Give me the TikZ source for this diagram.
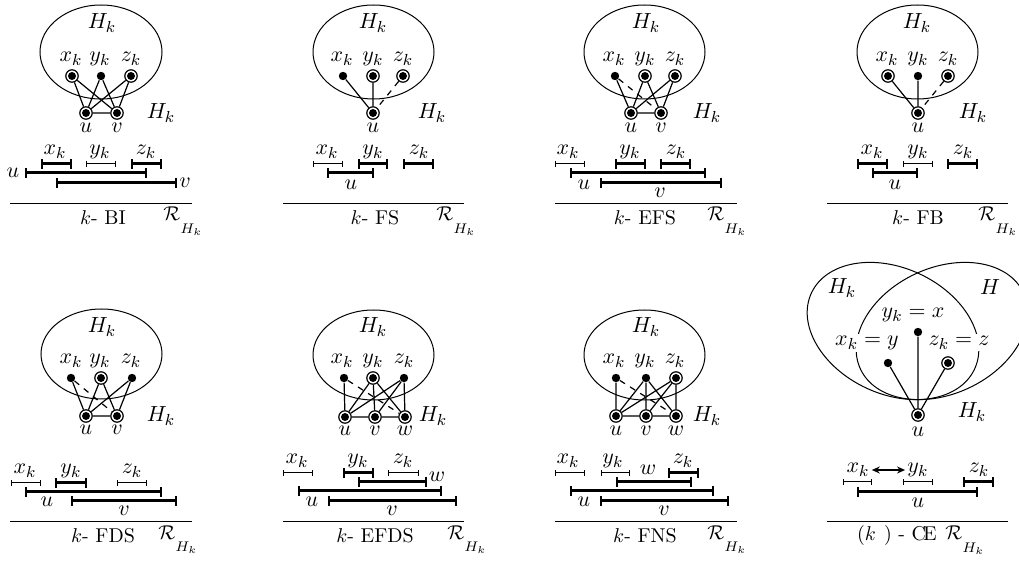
\documentclass[tikz,border=0pt]{standalone}
\usetikzlibrary{arrows.meta}
\newcommand{\RHk}{$\mathcal{R}_{\raisebox{-1.1ex}{$\scriptstyle H_k$}}$}
\begin{document}
\begin{tikzpicture}[x=0.5pt,y=-0.5pt,
  dv/.style={circle,draw,line width=0.6pt,fill=white,minimum size=6.2pt,inner sep=0pt,
    path picture={\fill[black] (path picture bounding box.center) circle (2pt);}},
  fv/.style={circle,fill,minimum size=4.2pt,inner sep=0pt},
  lbl/.style={inner sep=0pt,font=\fontsize{11}{13}\selectfont},
  wl/.style={lbl,fill=white,inner sep=1pt},
  edge/.style={line width=0.6pt},
  dedge/.style={line width=0.6pt,dash pattern=on 3pt off 3pt},
  thickiv/.style={line width=1.5pt,{Bar[width=5pt,line width=1pt]}-{Bar[width=5pt,line width=1pt]}},
  thiniv/.style={line width=0.5pt,{Bar[width=3pt]}-{Bar[width=3pt]}},
  hull/.style={line width=0.5pt},
  rulel/.style={line width=0.5pt},
  captxt/.style={anchor=base,inner sep=0pt},
  rh/.style={anchor=base west,inner sep=0pt},
]
\useasboundingbox (0,0) rectangle (1019,561);

% ---------------- Panel A : k-BI
\draw[hull] (101,52) ellipse [x radius=30.5pt, y radius=23.5pt];
\node[lbl] (a-H) at (102,23) {$H_k$};
\node[lbl] (a-lx) at (71,59) {$x_k$};
\node[lbl] (a-ly) at (100,59) {$y_k$};
\node[lbl] (a-lz) at (131,59) {$z_k$};
\node[dv] (a-x) at (72,76) {};
\node[fv] (a-y) at (101,76) {};
\node[dv] (a-z) at (131,76) {};
\node[dv] (a-u) at (86,113) {};
\node[dv] (a-v) at (117,113) {};
\node[lbl] (a-lu) at (86,128) {$u$};
\node[lbl] (a-lv) at (117,128) {$v$};
\node[lbl] (a-H2) at (161,113) {$H_k$};
\draw[edge] (a-x)--(a-u) (a-x)--(a-v) (a-y)--(a-u) (a-y)--(a-v) (a-z)--(a-u) (a-z)--(a-v) (a-u)--(a-v);
\draw[thickiv] (41,164) -- (72,164);
\draw[thiniv] (86,164) -- (116,164);
\draw[thickiv] (131,164) -- (162,164);
\node[lbl] (a-ix) at (55,152) {$x_k$};
\node[lbl] (a-iy) at (100,152) {$y_k$};
\node[lbl] (a-iz) at (146,152) {$z_k$};
\draw[thickiv] (25,173) -- (147,173);
\node[lbl] (a-iu) at (13,173) {$u$};
\draw[thickiv] (56,183) -- (177,183);
\node[lbl] (a-iv) at (185,183) {$v$};
\draw[rulel] (10,204) -- (192,204);
\node[captxt] (a-cap) at (103,225) {$k$- BI};
\node[rh] (a-R) at (163,221) {\RHk};

% ---------------- Panel B : k-FS
\draw[hull] (373.5,52) ellipse [x radius=30.25pt, y radius=23.5pt];
\node[lbl] (b-H) at (373,23) {$H_k$};
\node[lbl] (b-lx) at (342,59) {$x_k$};
\node[lbl] (b-ly) at (373,59) {$y_k$};
\node[lbl] (b-lz) at (403,59) {$z_k$};
\node[fv] (b-x) at (343,76) {};
\node[dv] (b-y) at (373,76) {};
\node[dv] (b-z) at (403,76) {};
\node[dv] (b-u) at (373,113) {};
\node[lbl] (b-lu) at (373,128) {$u$};
\node[lbl] (b-H2) at (432,113) {$H_k$};
\draw[edge] (b-x)--(b-u) (b-y)--(b-u);
\draw[dedge] (b-z)--(b-u);
\draw[thiniv] (313,164) -- (343,164);
\draw[thickiv] (358,164) -- (388,164);
\draw[thickiv] (403,164) -- (434,164);
\node[lbl] (b-ix) at (327,152) {$x_k$};
\node[lbl] (b-iy) at (373,152) {$y_k$};
\node[lbl] (b-iz) at (419,152) {$z_k$};
\draw[thickiv] (327,173) -- (374,173);
\node[lbl] (b-iu) at (351,185) {$u$};
\draw[rulel] (283,204) -- (464,204);
\node[captxt] (b-cap) at (375,225) {$k$- FS};
\node[rh] (b-R) at (436,221) {\RHk};

% ---------------- Panel C : k-EFS
\draw[hull] (644.5,52) ellipse [x radius=30.25pt, y radius=23.5pt];
\node[lbl] (c-H) at (646,23) {$H_k$};
\node[lbl] (c-lx) at (614,59) {$x_k$};
\node[lbl] (c-ly) at (645,59) {$y_k$};
\node[lbl] (c-lz) at (675,59) {$z_k$};
\node[fv] (c-x) at (615,76) {};
\node[dv] (c-y) at (645,76) {};
\node[dv] (c-z) at (675,76) {};
\node[dv] (c-u) at (631,113) {};
\node[dv] (c-v) at (661,113) {};
\node[lbl] (c-lu) at (631,128) {$u$};
\node[lbl] (c-lv) at (661,128) {$v$};
\node[lbl] (c-H2) at (707,113) {$H_k$};
\draw[edge] (c-x)--(c-u) (c-y)--(c-u) (c-y)--(c-v) (c-z)--(c-u) (c-z)--(c-v) (c-u)--(c-v);
\draw[dedge] (c-x)--(c-v);
\draw[thiniv] (555,164) -- (585,164);
\draw[thickiv] (615,164) -- (646,164);
\draw[thickiv] (660,164) -- (691,164);
\node[lbl] (c-ix) at (568,152) {$x_k$};
\node[lbl] (c-iy) at (630,152) {$y_k$};
\node[lbl] (c-iz) at (676,152) {$z_k$};
\draw[thickiv] (570,173) -- (706,173);
\node[lbl] (c-iu) at (584,185) {$u$};
\draw[thickiv] (600,183) -- (722,183);
\node[lbl] (c-iv) at (660,193) {$v$};
\draw[rulel] (555,204) -- (737,204);
\node[captxt] (c-cap) at (645,225) {$k$- EFS};
\node[rh] (c-R) at (707,221) {\RHk};

% ---------------- Panel D : k-FB
\draw[hull] (917.5,52) ellipse [x radius=30.25pt, y radius=23.5pt];
\node[lbl] (d-H) at (917,23) {$H_k$};
\node[lbl] (d-lx) at (887,59) {$x_k$};
\node[lbl] (d-ly) at (918,59) {$y_k$};
\node[lbl] (d-lz) at (948,59) {$z_k$};
\node[dv] (d-x) at (888,76) {};
\node[fv] (d-y) at (918,76) {};
\node[dv] (d-z) at (948,76) {};
\node[dv] (d-u) at (918,113) {};
\node[lbl] (d-lu) at (918,128) {$u$};
\node[lbl] (d-H2) at (973,113) {$H_k$};
\draw[edge] (d-x)--(d-u) (d-y)--(d-u);
\draw[dedge] (d-z)--(d-u);
\draw[thickiv] (857,164) -- (888,164);
\draw[thiniv] (903,164) -- (933,164);
\draw[thickiv] (947,164) -- (978,164);
\node[lbl] (d-ix) at (872,152) {$x_k$};
\node[lbl] (d-iy) at (918,152) {$y_k$};
\node[lbl] (d-iz) at (963,152) {$z_k$};
\draw[thickiv] (872,173) -- (918,173);
\node[lbl] (d-iu) at (895,185) {$u$};
\draw[rulel] (827,204) -- (1008,204);
\node[captxt] (d-cap) at (918,225) {$k$- FB};
\node[rh] (d-R) at (978,221) {\RHk};

% ---------------- Panel E : k-FDS
\draw[hull] (101.5,354) ellipse [x radius=30.25pt, y radius=22.5pt];
\node[lbl] (e-H) at (102,327) {$H_k$};
\node[lbl] (e-lx) at (71,361) {$x_k$};
\node[lbl] (e-ly) at (100,361) {$y_k$};
\node[lbl] (e-lz) at (131,361) {$z_k$};
\node[fv] (e-x) at (71,378) {};
\node[dv] (e-y) at (101,378) {};
\node[fv] (e-z) at (132,378) {};
\node[dv] (e-u) at (86,416) {};
\node[dv] (e-v) at (117,416) {};
\node[lbl] (e-lu) at (86,430) {$u$};
\node[lbl] (e-lv) at (117,430) {$v$};
\node[lbl] (e-H2) at (161,416) {$H_k$};
\draw[edge] (e-x)--(e-u) (e-y)--(e-u) (e-y)--(e-v) (e-z)--(e-u) (e-z)--(e-v) (e-u)--(e-v);
\draw[dedge] (e-x)--(e-v);
\draw[thiniv] (11,483) -- (41,483);
\draw[thickiv] (55,483) -- (87,483);
\draw[thiniv] (117,483) -- (147,483);
\node[lbl] (e-ix) at (25,471) {$x_k$};
\node[lbl] (e-iy) at (71,471) {$y_k$};
\node[lbl] (e-iz) at (132,471) {$z_k$};
\draw[thickiv] (25,492) -- (162,492);
\node[lbl] (e-iu) at (47,502) {$u$};
\draw[thickiv] (71,501) -- (177,501);
\node[lbl] (e-iv) at (124,511) {$v$};
\draw[rulel] (10,522) -- (192,522);
\node[captxt] (e-cap) at (103,543) {$k$- FDS};
\node[rh] (e-R) at (158,539) {\RHk};

% ---------------- Panel F : k-EFDS
\draw[hull] (373.5,355) ellipse [x radius=30.25pt, y radius=22.5pt];
\node[lbl] (f-H) at (373,327) {$H_k$};
\node[lbl] (f-lx) at (342,361) {$x_k$};
\node[lbl] (f-ly) at (373,361) {$y_k$};
\node[lbl] (f-lz) at (404,361) {$z_k$};
\node[fv] (f-x) at (344,378) {};
\node[dv] (f-y) at (373,378) {};
\node[fv] (f-z) at (404,378) {};
\node[dv] (f-u) at (345,417) {};
\node[dv] (f-v) at (375,417) {};
\node[dv] (f-w) at (405,417) {};
\node[lbl] (f-lu) at (345,431) {$u$};
\node[lbl] (f-lv) at (375,431) {$v$};
\node[lbl] (f-lw) at (405,431) {$w$};
\node[lbl] (f-H2) at (433,416) {$H_k$};
\draw[edge] (f-x)--(f-u) (f-y)--(f-u) (f-y)--(f-v) (f-y)--(f-w) (f-z)--(f-u) (f-z)--(f-v) (f-z)--(f-w) (f-u)--(f-v) (f-v)--(f-w);
\draw[dedge] (f-x)--(f-w);
\draw[thiniv] (283,473) -- (313,473);
\draw[thickiv] (343,473) -- (374,473);
\draw[thiniv] (388,473) -- (419,473);
\node[lbl] (f-ix) at (297,461) {$x_k$};
\node[lbl] (f-iy) at (358,461) {$y_k$};
\node[lbl] (f-iz) at (403,461) {$z_k$};
\draw[thickiv] (358,482) -- (427,482);
\node[lbl] (f-iw) at (437,477) {$w$};
\draw[thickiv] (298,491) -- (442,491);
\node[lbl] (f-iu) at (312,502) {$u$};
\draw[thickiv] (328,501) -- (457,501);
\node[lbl] (f-iv) at (392,511) {$v$};
\draw[rulel] (283,522) -- (464,522);
\node[captxt] (f-cap) at (375,543) {$k$- EFDS};
\node[rh] (f-R) at (447,539) {\RHk};

% ---------------- Panel G : k-FNS
\draw[hull] (644.5,355) ellipse [x radius=30.25pt, y radius=22.5pt];
\node[lbl] (g-H) at (646,327) {$H_k$};
\node[lbl] (g-lx) at (614,361) {$x_k$};
\node[lbl] (g-ly) at (645,361) {$y_k$};
\node[lbl] (g-lz) at (675,361) {$z_k$};
\node[fv] (g-x) at (616,378) {};
\node[fv] (g-y) at (646,378) {};
\node[dv] (g-z) at (676,378) {};
\node[dv] (g-u) at (616,416) {};
\node[dv] (g-v) at (646,416) {};
\node[dv] (g-w) at (676,416) {};
\node[lbl] (g-lu) at (616,431) {$u$};
\node[lbl] (g-lv) at (646,431) {$v$};
\node[lbl] (g-lw) at (676,431) {$w$};
\node[lbl] (g-H2) at (707,416) {$H_k$};
\draw[edge] (g-x)--(g-u) (g-y)--(g-u) (g-y)--(g-v) (g-y)--(g-w) (g-z)--(g-u) (g-z)--(g-v) (g-z)--(g-w) (g-u)--(g-v) (g-v)--(g-w);
\draw[dedge] (g-x)--(g-w);
\draw[thiniv] (555,473) -- (585,473);
\draw[thiniv] (601,473) -- (630,473);
\draw[thickiv] (668,473) -- (699,473);
\node[lbl] (g-ix) at (568,461) {$x_k$};
\node[lbl] (g-iy) at (613,461) {$y_k$};
\node[lbl] (g-iz) at (683,461) {$z_k$};
\draw[thickiv] (616,482) -- (692,482);
\node[lbl] (g-iw) at (648,470) {$w$};
\draw[thickiv] (570,491) -- (714,491);
\node[lbl] (g-iu) at (584,502) {$u$};
\draw[thickiv] (600,501) -- (729,501);
\node[lbl] (g-iv) at (664,511) {$v$};
\draw[rulel] (555,522) -- (737,522);
\node[captxt] (g-cap) at (645,543) {$k$- FNS};
\node[rh] (g-R) at (707,539) {\RHk};

% ---------------- Panel H : (k )-CE
\draw[hull, rotate around={-25:(893,331)}] (893,331) ellipse [x radius=45pt, y radius=31.5pt];
\draw[hull, rotate around={25:(942,331)}] (942,331) ellipse [x radius=45pt, y radius=31.5pt];
\node[lbl] (h-H) at (842,288) {$H_k$};
\node[lbl] (h-HH) at (990,287) {$H$};
\node[wl] (h-ly) at (913,315) {$y_k = x$};
\node[wl] (h-lx) at (867,343) {$x_k = y$};
\node[wl] (h-lz) at (959,343) {$z_k = z$};
\node[fv] (h-y) at (918,332) {};
\node[fv] (h-x) at (888,363) {};
\node[dv] (h-z) at (948,363) {};
\node[dv] (h-u) at (918,415) {};
\node[lbl] (h-lu) at (918,432) {$u$};
\node[lbl] (h-H2) at (972,412) {$H_k$};
\draw[edge] (h-x)--(h-u) (h-y)--(h-u) (h-z)--(h-u);
\draw[thiniv] (843,482) -- (872,482);
\draw[thiniv] (903,482) -- (933,482);
\draw[thickiv] (963,482) -- (994,482);
\node[lbl] (h-ix) at (858,470) {$x_k$};
\node[lbl] (h-iy) at (918,470) {$y_k$};
\node[lbl] (h-iz) at (979,470) {$z_k$};
\draw[line width=0.8pt,{Stealth[length=4pt,width=3.5pt]}-{Stealth[length=4pt,width=3.5pt]},shorten <=1pt,shorten >=1pt] (h-ix.east) -- (h-iy.west);
\draw[thickiv] (857,492) -- (978,492);
\node[lbl] (h-iu) at (918,503) {$u$};
\draw[rulel] (827,522) -- (1008,522);
\node[captxt] (h-cap) at (897,541) {$(k\hspace{4pt})$ - C\kern-1.5pt E};
\node[rh] (h-R) at (945,540) {\RHk};
\end{tikzpicture}
\end{document}
